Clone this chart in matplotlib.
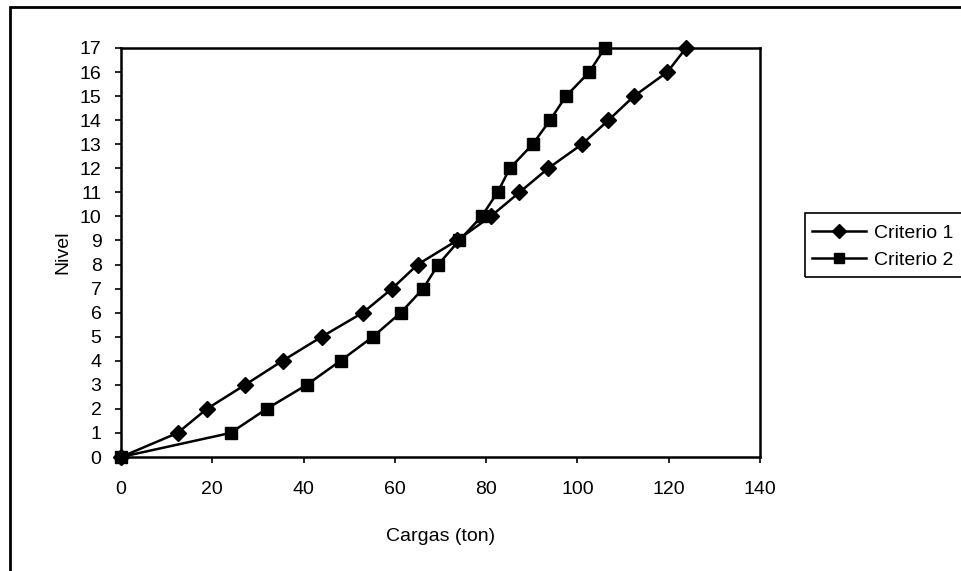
import matplotlib
matplotlib.use("Agg")
import matplotlib.pyplot as plt
from matplotlib.patches import Rectangle

plt.rcParams['font.family'] = ['Liberation Sans', 'DejaVu Sans']

niveles = list(range(0, 18))
criterio1 = [0, 12.4, 18.8, 27.2, 35.4, 44.0, 53.0, 59.4, 65.0, 73.6, 81.0,
             87.3, 93.6, 101.0, 106.8, 112.4, 119.7, 123.8]
criterio2 = [0, 24.0, 31.9, 40.7, 48.1, 55.2, 61.3, 66.2, 69.5, 74.1, 79.0,
             82.5, 85.2, 90.2, 94.0, 97.5, 102.6, 106.0]
xticks = [0, 20, 40, 60, 80, 100, 120, 140]
yticks = list(range(0, 18))

W, H = 962, 571
fig = plt.figure(figsize=(W / 100, H / 100), dpi=100)
ax = fig.add_axes([121 / W, 1 - 457 / H, (760 - 121) / W, (457 - 48) / H])

ax.plot(criterio1, niveles, color='black', lw=1.8, marker='D', ms=8.5,
        mfc='black', mec='black', label='Criterio 1', clip_on=False, zorder=3)
ax.plot(criterio2, niveles, color='black', lw=1.8, marker='s', ms=8.5,
        mfc='black', mec='black', label='Criterio 2', clip_on=False, zorder=3)

ax.set_xlim(0, 140)
ax.set_ylim(0, 17)
ax.set_xticks(xticks)
ax.set_yticks(yticks)
ax.tick_params(axis='both', direction='out', length=4, width=1.2,
               labelsize=14, colors='black')
ax.tick_params(axis='y', pad=10)
ax.tick_params(axis='x', pad=13)
for s in ax.spines.values():
    s.set_linewidth(1.8)
    s.set_color('black')

ax.set_xlabel('Cargas (ton)', fontsize=14, labelpad=22)
ax.set_ylabel('Nivel', fontsize=14, labelpad=6)

leg = fig.legend(loc='upper left', bbox_to_anchor=(808 / W, 1 - 220 / H),
                 frameon=False, fontsize=14,
                 handlelength=2.8, borderpad=0.2, labelspacing=0.5,
                 handletextpad=0.4, borderaxespad=0)
for h in leg.legend_handles:
    h.set_markersize(7)

legbox = Rectangle((805 / W, 1 - 277 / H), 0.5, (277 - 213) / H,
                   transform=fig.transFigure, fill=False, edgecolor='black',
                   linewidth=1.2, clip_on=False)
fig.patches.append(legbox)

border = Rectangle((10 / W, -0.1), 1.2, 1 - 7 / H + 0.1, transform=fig.transFigure,
                   fill=False, edgecolor='black', linewidth=2, clip_on=False)
fig.patches.append(border)

fig.savefig('out.png', dpi=100)
